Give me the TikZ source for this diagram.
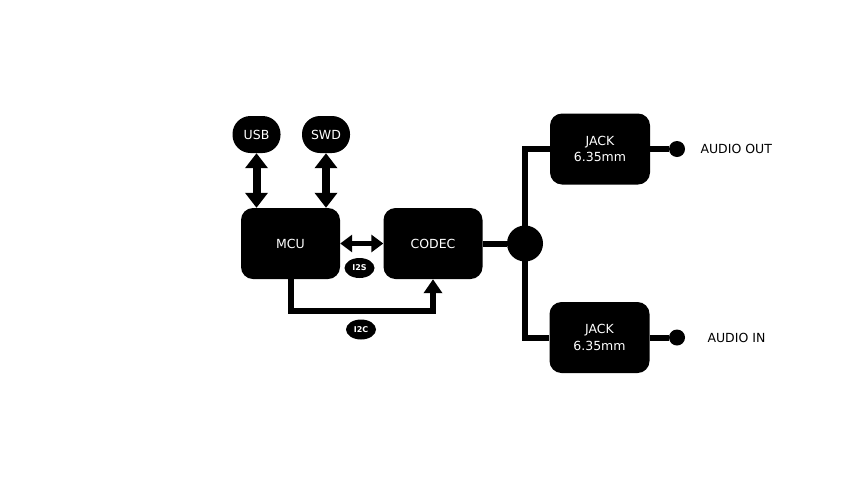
\documentclass[tikz,border=0pt]{standalone}
\usepackage{fontspec}
\setmainfont{DejaVu Sans}
\usetikzlibrary{arrows.meta,shapes.geometric}

\begin{document}
\begin{tikzpicture}[x=1pt, y=-1pt, font=\fontsize{12.5}{16.5}\selectfont,
  block/.style={fill=black, text=white, rounded corners=12pt, minimum width=99pt, minimum height=71pt, inner sep=0pt, align=center},
  port/.style={fill=black, text=white, rounded corners=18pt, minimum width=48pt, minimum height=37pt, inner sep=0pt},
  tag/.style={ellipse, fill=black, text=white, minimum width=30pt, minimum height=20pt, inner sep=0pt, font=\fontsize{8}{9}\selectfont\bfseries},
  dot/.style={circle, fill=black, minimum size=16pt, inner sep=0pt},
  bus/.style={line width=8pt, {Triangle[width=22pt,length=15pt]}-{Triangle[width=22pt,length=15pt]}},
  link/.style={line width=5pt, {Triangle[width=17pt,length=12pt]}-{Triangle[width=17pt,length=12pt]}},
  wire/.style={line width=6pt}]
  \useasboundingbox (0,0) rectangle (867,488);

  \node[port] (usb) at (256.5,134.5) {USB};
  \node[port] (swd) at (326,134.5) {SWD};
  \node[block] (mcu) at (290.5,243.5) {MCU};
  \node[block] (codec) at (433,243.5) {CODEC};
  \node[circle, fill=black, minimum size=36pt, inner sep=0pt] (hub) at (525,243.5) {};
  \node[block, minimum width=100pt] (jout) at (600,149) {JACK\\6.35mm};
  \node[block, minimum width=100pt] (jin) at (599.5,337.5) {JACK\\6.35mm};
  \node[dot] (pout) at (677,149) {};
  \node[dot] (pin) at (677,337.5) {};
  \node[anchor=west] (lout) at (697,149) {AUDIO OUT};
  \node[anchor=west] (lin) at (704,337.5) {AUDIO IN};
  \node[tag] (i2s) at (359.5,268) {I2S};
  \node[tag] (i2c) at (361,329.5) {I2C};

  \draw[bus] (usb.south) -- (usb.south |- mcu.north);
  \draw[bus] (swd.south) -- (swd.south |- mcu.north);
  \draw[link] (mcu.east) -- (codec.west);
  \draw[wire, -{Triangle[width=18pt,length=14pt]}] (mcu.south) -- ++(0,32) -| (codec.south);

  \draw[wire] (codec.east) -- (hub);
  \draw[wire] (jout.west) -| (hub.center) |- (jin.west);
  \draw[wire] (jout.east) -- (pout);
  \draw[wire] (jin.east) -- (pin);
\end{tikzpicture}
\end{document}
